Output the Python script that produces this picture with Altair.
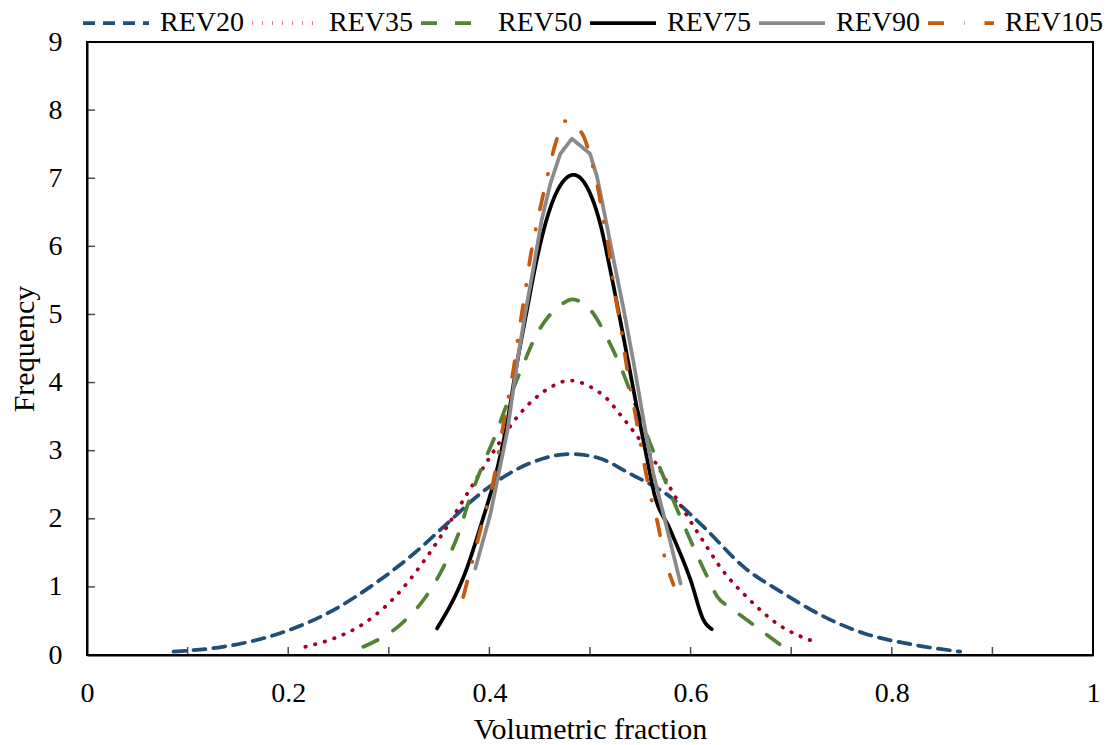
import altair as alt
import pandas as pd

FONT = "Liberation Serif"

series = ["REV20", "REV35", "REV50", "REV75", "REV90", "REV105"]
colors = ["#1F4E79", "#A50021", "#548235", "#000000", "#8A8A8A", "#C55A11"]
dashes = [[12, 8], [0.5, 9.5], [16, 18], [1, 0], [1, 0], [16, 20, 0.5, 20]]

rev20_x = [0.086, 0.135, 0.192, 0.245, 0.291, 0.325, 0.358, 0.391, 0.441, 0.480,
           0.507, 0.540, 0.580, 0.613, 0.653, 0.693, 0.733, 0.772, 0.822, 0.868]
rev20_y = [0.05, 0.12, 0.32, 0.66, 1.10, 1.49, 1.93, 2.37, 2.82, 2.95,
           2.90, 2.66, 2.32, 1.88, 1.29, 0.90, 0.56, 0.32, 0.15, 0.05]

rev35_x = [0.217, 0.2465, 0.275, 0.306, 0.333, 0.356, 0.378, 0.406, 0.429, 0.444,
           0.4606, 0.480, 0.500, 0.517, 0.530, 0.550, 0.567, 0.583, 0.610, 0.633,
           0.656, 0.686, 0.724]
rev35_y = [0.12, 0.25, 0.46, 0.85, 1.34, 1.84, 2.37, 3.03, 3.52, 3.75,
           3.93, 4.03, 3.94, 3.76, 3.53, 3.15, 2.78, 2.37, 1.73, 1.22,
           0.85, 0.46, 0.19]

rev50_x = [0.2747, 0.311, 0.338, 0.3577, 0.368, 0.381, 0.394, 0.406, 0.414, 0.4324,
           0.447, 0.4638, 0.474, 0.482, 0.4997, 0.5186, 0.5335, 0.5435, 0.560, 0.580,
           0.600, 0.6165, 0.6264, 0.640, 0.660, 0.694]
rev50_y = [0.12, 0.44, 0.88, 1.39, 1.73, 2.32, 2.81, 3.23, 3.55, 4.22,
           4.71, 5.05, 5.17, 5.22, 5.08, 4.61, 4.12, 3.73, 3.10, 2.37,
           1.68, 1.15, 0.86, 0.69, 0.47, 0.10]

rev75_x = [0.348, 0.378, 0.391, 0.4075, 0.4175, 0.4274, 0.4374, 0.447, 0.457, 0.467,
           0.4837, 0.500, 0.510, 0.5195, 0.528, 0.537, 0.547, 0.557, 0.563, 0.580,
           0.600, 0.613, 0.621]
rev75_y = [0.39, 1.29, 1.88, 2.72, 3.40, 4.28, 5.07, 5.80, 6.40, 6.80,
           7.05, 6.78, 6.34, 5.70, 5.07, 4.38, 3.60, 2.86, 2.42, 1.83,
           1.10, 0.51, 0.38]

rev90_x = [0.386, 0.401, 0.418, 0.4274, 0.4357, 0.444, 0.452, 0.4606, 0.4705, 0.482,
           0.500, 0.507, 0.5136, 0.5235, 0.5335, 0.5435, 0.555, 0.563, 0.577, 0.590]
rev90_y = [1.27, 2.07, 3.30, 4.28, 5.02, 5.70, 6.39, 6.92, 7.36, 7.58,
           7.36, 7.02, 6.54, 5.80, 5.07, 4.28, 3.30, 2.66, 1.83, 1.05]

rev105_x = [0.374, 0.391, 0.404, 0.414, 0.419, 0.424, 0.428, 0.4324, 0.4366, 0.4406,
            0.446, 0.452, 0.458, 0.4655, 0.4755, 0.492, 0.502, 0.5085, 0.513, 0.5186,
            0.522, 0.526, 0.531, 0.535, 0.5395, 0.545, 0.555, 0.560, 0.5675, 0.5727,
            0.583]
rev105_y = [0.85, 1.83, 2.56, 3.39, 3.79, 4.20, 4.61, 5.03, 5.43, 5.83,
            6.25, 6.66, 7.05, 7.50, 7.84, 7.66, 7.22, 6.81, 6.42, 5.98,
            5.60, 5.20, 4.79, 4.38, 3.97, 3.54, 2.72, 2.35, 1.92, 1.53,
            1.03]

x_label_values = [0, 0.2, 0.4, 0.6, 0.8, 1]
y_label_values = [0, 1, 2, 3, 4, 5, 6, 7, 8, 9]
x_tick_values = [0.1, 0.2, 0.3, 0.4, 0.5, 0.6, 0.7, 0.8, 0.9]
y_tick_values = [1, 2, 3, 4, 5, 6, 7, 8]

all_x = [rev20_x, rev35_x, rev50_x, rev75_x, rev90_x, rev105_x]
all_y = [rev20_y, rev35_y, rev50_y, rev75_y, rev90_y, rev105_y]

rows = []
for name, xs, ys in zip(series, all_x, all_y):
    for i, (a, b) in enumerate(zip(xs, ys)):
        rows.append({"series": name, "x": a, "y": b, "order": i})
df = pd.DataFrame(rows)

legend = alt.Legend(
    title=None, orient="none", legendX=-6, legendY=-54, direction="horizontal",
    symbolType="stroke", symbolSize=4356, symbolStrokeWidth=3.75,
    labelFont=FONT, labelFontSize=28, labelColor="black", labelOffset=9,
    columnPadding=0, padding=0, labelLimit=0,
)
color = alt.Color("series:N", scale=alt.Scale(domain=series, range=colors), legend=legend)
dash = alt.StrokeDash("series:N", scale=alt.Scale(domain=series, range=dashes), legend=legend)

xscale = alt.Scale(domain=[0, 1], nice=False, zero=False)
yscale = alt.Scale(domain=[0, 9], nice=False)

xaxis = alt.Axis(
    values=x_label_values, format="~g", ticks=False, tickSize=0, grid=False,
    labelFont=FONT, labelFontSize=28, labelColor="black", labelPadding=24,
    labelFlush=False, domainColor="black", domainWidth=2,
    title="Volumetric fraction", titleFont=FONT, titleFontSize=30,
    titleFontWeight="normal", titleColor="black", titleX=503, titleY=83,
    titleBaseline="alphabetic", titleAlign="center",
)
yaxis = alt.Axis(
    values=y_label_values, format="d", ticks=False, tickSize=0, grid=False,
    labelFont=FONT, labelFontSize=28, labelColor="black", labelPadding=25,
    labelFlush=False, domainColor="black", domainWidth=2,
    title="Frequency", titleFont=FONT, titleFontSize=30,
    titleFontWeight="normal", titleColor="black", titleX=-54, titleY=306.5,
    titleBaseline="alphabetic", titleAlign="center", titleAngle=270,
)

X = alt.X("x:Q", scale=xscale, axis=xaxis)
Y = alt.Y("y:Q", scale=yscale, axis=yaxis)

layers = []
for name in series:
    interp = "linear" if name == "REV90" else "monotone"
    layers.append(
        alt.Chart(df)
        .transform_filter(alt.datum.series == name)
        .mark_line(strokeWidth=3.75, strokeCap="round", strokeJoin="round", interpolate=interp)
        .encode(x=X, y=Y, color=color, strokeDash=dash, order="order:Q")
    )

xt = (
    alt.Chart(pd.DataFrame({"x": x_tick_values}))
    .mark_tick(orient="vertical", size=8, thickness=1.5, color="black", yOffset=-4)
    .encode(x=X, y=alt.datum(0))
)
yt = (
    alt.Chart(pd.DataFrame({"y": y_tick_values}))
    .mark_tick(orient="horizontal", size=8, thickness=1.5, color="black", xOffset=4)
    .encode(y=Y, x=alt.datum(0))
)

chart = (
    alt.layer(*layers, xt, yt)
    .properties(
        width=1006, height=613,
        autosize=alt.AutoSizeParams(type="none"),
        padding={"left": 87, "top": 42, "right": 24, "bottom": 90},
        background="white",
    )
    .configure_view(stroke="black", strokeWidth=2)
)

chart.save("out.html", embed_options={"renderer": "svg", "actions": False})
